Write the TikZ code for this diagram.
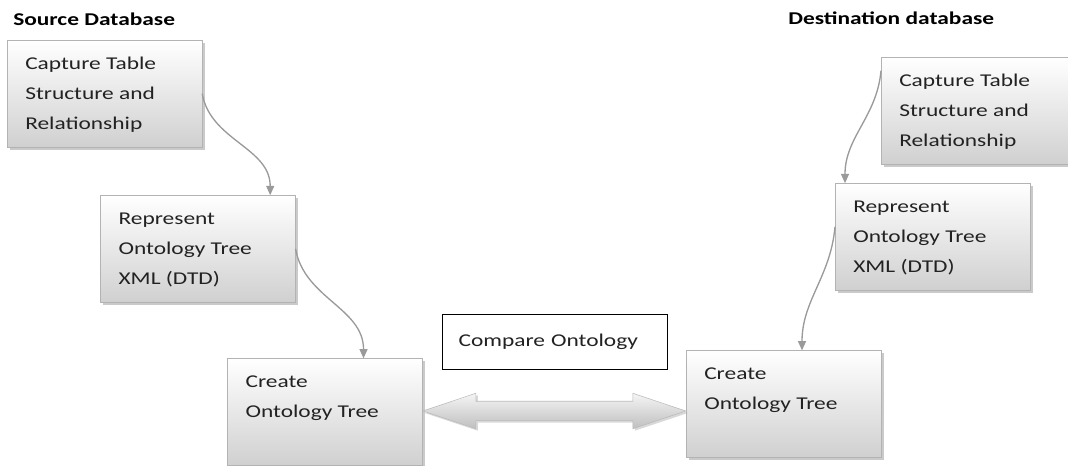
\documentclass[tikz,border=0pt]{standalone}
\usepackage{fontspec}
\setmainfont{Carlito}[FakeStretch=1.3]
\usetikzlibrary{arrows.meta,positioning,calc,shadows,shapes.arrows}
\definecolor{StepEdge}{HTML}{B3B3B3}
\definecolor{StepTop}{HTML}{FFFFFF}
\definecolor{StepBottom}{HTML}{D0D0D0}
\definecolor{LinkGrey}{HTML}{9A9A9A}
\definecolor{TextDark}{HTML}{222222}

\newcommand{\steptext}[1]{\parbox[c][68pt][t]{119pt}{\strut#1}}

\begin{document}
\begin{tikzpicture}[x=0.75pt,y=-0.75pt,
  every node/.style={font=\fontsize{13.5}{22.5}\selectfont,text=TextDark},
  stepbox/.style={rectangle,draw=StepEdge,top color=StepTop,bottom color=StepBottom,inner xsep=13.5pt,inner ysep=6pt,drop shadow={shadow xshift=2pt,shadow yshift=-2pt,fill=gray!70,opacity=0.6}},
  titletext/.style={font=\fontsize{13.5}{16}\selectfont\bfseries,text=black,inner sep=0pt,anchor=base west},
  comparebox/.style={rectangle,draw=black,line width=0.9pt,fill=white,anchor=north west,text width=144.75pt,inner xsep=12pt,minimum height=41.25pt,align=left},
  link/.style={-{Triangle[length=7pt,width=6pt]},draw=LinkGrey,line width=1pt},
  twoway/.style={double arrow,double arrow head extend=6pt,double arrow tip angle=37,minimum height=197.25pt,inner xsep=0pt,inner ysep=7.1pt,draw=gray!55,top color=gray!8,bottom color=gray!50,drop shadow={shadow xshift=1.5pt,shadow yshift=-1.5pt,fill=gray!60,opacity=0.5}}
]
\useasboundingbox (0,0) rectangle (1068,466);
% source side
\node[titletext] (srctitle) at (13,26) {Source Database};
\node[stepbox,anchor=north west] (srccapture) at (7,40) {\steptext{Capture Table\\Structure and\\Relationship}};
\node[stepbox,below=36pt of srccapture,xshift=70pt] (srcrep) {\steptext{Represent\\Ontology Tree\\XML (DTD)}};
\node[stepbox,below=42pt of srcrep,xshift=95.25pt] (srccreate) {\steptext{Create\\Ontology Tree}};
% destination side
\node[titletext] (dsttitle) at (788,25) {Destination database};
\node[stepbox,anchor=north west] (dstcapture) at (881,57) {\steptext{Capture Table\\Structure and\\Relationship}};
\node[stepbox,below=14.25pt of dstcapture,xshift=-34.5pt] (dstrep) {\steptext{Represent\\Ontology Tree\\XML (DTD)}};
\node[stepbox,below=45pt of dstrep,xshift=-111.75pt] (dstcreate) {\steptext{Create\\Ontology Tree}};
% comparison
\node[comparebox] (compare) at (442,314) {Compare Ontology};
\node[twoway,yshift=-2.25pt] (cmparrow) at ($(srccreate.east)!0.5!(dstcreate.west)$) {};
\draw[link] (srccapture.east) to[out=-80,in=90] ([xshift=-19pt]srcrep.north east);
\draw[link] (srcrep.east) to[out=-80,in=90] ([xshift=-44.25pt]srccreate.north east);
\draw[link] ([yshift=30pt]dstcapture.west) to[out=-95,in=90] ([xshift=7.5pt]dstrep.north west);
\draw[link] ([yshift=7.5pt]dstrep.west) to[out=-95,in=90] ([xshift=87pt]dstcreate.north west);
\end{tikzpicture}
\end{document}
